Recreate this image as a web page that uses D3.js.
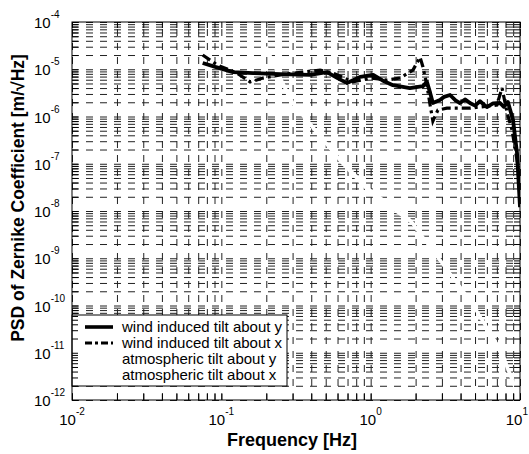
<!DOCTYPE html>
<html>
<head>
<meta charset="utf-8">
<script src="https://cdn.jsdelivr.net/npm/d3@7"></script>
<style>
body { margin: 0; background: #fff; }
text { font-family: "Liberation Sans", Arial, sans-serif; fill: #000; }
</style>
</head>
<body>
<svg id="chart" width="529" height="454"></svg>
<script>
// values (frequency in Hz, PSD in m/sqrt(Hz))
const windYFreq = [0.075, 0.091, 0.12, 0.163, 0.247, 0.393, 0.51, 0.6, 0.695, 0.85, 1.04, 1.2, 1.41, 1.83, 2.24, 2.38, 2.5, 2.61, 2.91, 3.1, 3.4, 3.7, 3.96, 4.3, 4.62, 5.0, 5.4, 6.0, 6.6, 7.35, 7.8, 8.3, 8.98, 9.55, 10];
const windYPsd = [1.36e-5, 1.12e-5, 8.7e-6, 8.3e-6, 7.9e-6, 7.6e-6, 8.7e-6, 6.5e-6, 5.1e-6, 6.9e-6, 7.6e-6, 5.8e-6, 4.6e-6, 4.0e-6, 4.4e-6, 5.4e-6, 3.2e-6, 1.93e-6, 2.24e-6, 2.6e-6, 2.85e-6, 2.2e-6, 1.93e-6, 2.3e-6, 1.93e-6, 1.7e-6, 2.1e-6, 1.58e-6, 1.9e-6, 1.93e-6, 1.6e-6, 2.03e-6, 8.4e-7, 1.7e-7, 1.2e-8];

const windXFreq = [0.075, 0.094, 0.127, 0.156, 0.19, 0.267, 0.458, 0.56, 0.76, 1.0, 1.29, 1.57, 1.92, 2.14, 2.24, 2.38, 2.5, 2.61, 2.82, 3.24, 4.62, 7.0, 7.58, 8.2, 8.84, 9.55, 10];
const windXPsd = [2.0e-5, 1.23e-5, 8.3e-6, 5.4e-6, 6.5e-6, 7.9e-6, 9.6e-6, 8.3e-6, 5.4e-6, 6.5e-6, 5.9e-6, 6.5e-6, 9.6e-6, 1.8e-5, 1.12e-5, 4.6e-6, 1.75e-6, 8.0e-7, 1.37e-6, 1.5e-6, 1.5e-6, 1.75e-6, 4.0e-6, 1.19e-6, 5.2e-7, 1.2e-7, 2.8e-8];

// the atmospheric curves are drawn in white, they only show as gaps in the grid
const atmYFreq = [0.2, 0.288, 0.45, 0.624, 0.99, 1.83, 2.91, 4.62, 7.35, 10];
const atmYPsd = [3.0e-5, 2.24e-6, 4.0e-7, 1.2e-7, 2.8e-8, 6.5e-9, 9.1e-10, 1.3e-10, 1.15e-11, 1e-12];
const atmXFreq = [0.2, 0.3, 0.47, 0.65, 1.0, 1.9, 3.0, 4.8, 7.6, 10];
const atmXPsd = [2.6e-5, 2.0e-6, 3.6e-7, 1.0e-7, 2.4e-8, 5.6e-9, 8.0e-10, 1.1e-10, 1.0e-11, 1e-12];

const xMajor = [-2, -1, 0, 1];
const yMajor = [-12, -11, -10, -9, -8, -7, -6, -5, -4];

const legendLabels = ["wind induced tilt about y", "wind induced tilt about x", "atmospheric tilt about y", "atmospheric tilt about x"];

const margin = {left: 72, top: 22, right: 9, bottom: 54};
const width = 529 - margin.left - margin.right,
    height = 454 - margin.top - margin.bottom;

const svg = d3.select("#chart");
const g = svg.append("g").attr("transform", "translate(" + margin.left + "," + margin.top + ")");

const x = d3.scaleLog().domain([1e-2, 1e1]).range([0, width]);
const y = d3.scaleLog().domain([1e-12, 1e-4]).range([height, 0]);

// minor + major tick positions
const xTicks = [];
for (let e = -2; e < 1; e++) for (let m = 1; m < 10; m++) xTicks.push(m * Math.pow(10, e));
xTicks.push(10);
const yTicks = [];
for (let e = -12; e < -4; e++) for (let m = 1; m < 10; m++) yTicks.push(m * Math.pow(10, e));
yTicks.push(1e-4);

g.append("defs").append("clipPath").attr("id", "clip")
    .append("rect").attr("width", width).attr("height", height);

// dashed grid
g.append("g")
    .attr("class", "grid")
    .attr("transform", "translate(0," + height + ")")
    .call(d3.axisBottom(x).tickValues(xTicks).tickSize(-height).tickFormat(""))
    .call(s => s.select(".domain").remove())
    .selectAll("line")
    .attr("stroke", "#222")
    .attr("stroke-width", 1)
    .attr("stroke-dasharray", "7,7");

g.append("g")
    .attr("class", "grid")
    .call(d3.axisLeft(y).tickValues(yTicks).tickSize(-width).tickFormat(""))
    .call(s => s.select(".domain").remove())
    .selectAll("line")
    .attr("stroke", "#222")
    .attr("stroke-width", 1)
    .attr("stroke-dasharray", "7,7");

const line = d3.line()
    .x(d => x(d[0]))
    .y(d => y(d[1]));

const plot = g.append("g").attr("clip-path", "url(#clip)");

plot.append("path")
    .datum(d3.zip(atmYFreq, atmYPsd))
    .attr("d", line)
    .attr("fill", "none")
    .attr("stroke", "#fff")
    .attr("stroke-width", 3);

plot.append("path")
    .datum(d3.zip(atmXFreq, atmXPsd))
    .attr("d", line)
    .attr("fill", "none")
    .attr("stroke", "#fff")
    .attr("stroke-width", 3);

plot.append("path")
    .datum(d3.zip(windXFreq, windXPsd))
    .attr("d", line)
    .attr("fill", "none")
    .attr("stroke", "#000")
    .attr("stroke-width", 3.2)
    .attr("stroke-dasharray", "9,4,3,4");

plot.append("path")
    .datum(d3.zip(windYFreq, windYPsd))
    .attr("d", line)
    .attr("fill", "none")
    .attr("stroke", "#000")
    .attr("stroke-width", 3.8)
    .attr("stroke-linejoin", "round");

// legend
const lg = g.append("g").attr("transform", "translate(0," + (315 - margin.top) + ")");
lg.append("rect")
    .attr("width", 215)
    .attr("height", 71)
    .attr("fill", "#fff")
    .attr("stroke", "#000")
    .attr("stroke-width", 1);

const legendStyles = [
    {color: "#000", dash: null, w: 3.6},
    {color: "#000", dash: "7,3,3,3", w: 3.2},
    {color: "#fff", dash: null, w: 3},
    {color: "#fff", dash: null, w: 3}
];

legendLabels.forEach(function (d, i) {
    const ly = 12 + i * 16;
    lg.append("line")
        .attr("x1", 13).attr("x2", 41)
        .attr("y1", ly).attr("y2", ly)
        .attr("stroke", legendStyles[i].color)
        .attr("stroke-width", legendStyles[i].w)
        .attr("stroke-dasharray", legendStyles[i].dash);
    lg.append("text")
        .attr("x", 50)
        .attr("y", ly + 5)
        .attr("font-size", "15px")
        .text(d);
});

// inward ticks
g.append("g")
    .attr("transform", "translate(0," + height + ")")
    .call(d3.axisBottom(x).tickValues(xTicks).tickSize(-6).tickFormat(""))
    .call(s => s.select(".domain").remove())
    .selectAll("line").attr("stroke", "#000");
g.append("g")
    .call(d3.axisTop(x).tickValues(xTicks).tickSize(-6).tickFormat(""))
    .call(s => s.select(".domain").remove())
    .selectAll("line").attr("stroke", "#000");
g.append("g")
    .call(d3.axisLeft(y).tickValues(yTicks).tickSize(-6).tickFormat(""))
    .call(s => s.select(".domain").remove())
    .selectAll("line").attr("stroke", "#000");
g.append("g")
    .attr("transform", "translate(" + width + ",0)")
    .call(d3.axisRight(y).tickValues(yTicks).tickSize(-6).tickFormat(""))
    .call(s => s.select(".domain").remove())
    .selectAll("line").attr("stroke", "#000");

// box
g.append("rect")
    .attr("width", width)
    .attr("height", height)
    .attr("fill", "none")
    .attr("stroke", "#000")
    .attr("stroke-width", 1);

// tick labels 10^n
xMajor.forEach(function (e, i) {
    const last = i === xMajor.length - 1;
    const t = g.append("text")
        .attr("x", last ? x(Math.pow(10, e)) + 8 : x(Math.pow(10, e)))
        .attr("y", height + 25)
        .attr("text-anchor", last ? "end" : "middle")
        .attr("font-size", "15px");
    t.append("tspan").text("10");
    t.append("tspan").attr("dy", -10).attr("font-size", "10px").text(e);
});

yMajor.forEach(function (e) {
    const t = g.append("text")
        .attr("x", 34 - margin.left)
        .attr("y", y(Math.pow(10, e)) + 6)
        .attr("font-size", "15px");
    t.append("tspan").text("10");
    t.append("tspan").attr("dy", -10).attr("font-size", "10px").text(e);
});

// axis titles
svg.append("text")
    .attr("x", 292)
    .attr("y", 446)
    .attr("text-anchor", "middle")
    .attr("font-size", "18px")
    .attr("font-weight", "bold")
    .text("Frequency [Hz]");

svg.append("text")
    .attr("transform", "translate(24,198) rotate(-90)")
    .attr("text-anchor", "middle")
    .attr("font-size", "17.5px")
    .attr("font-weight", "bold")
    .text("PSD of Zernike Coefficient [m/\u221AHz]");
</script>
</body>
</html>
